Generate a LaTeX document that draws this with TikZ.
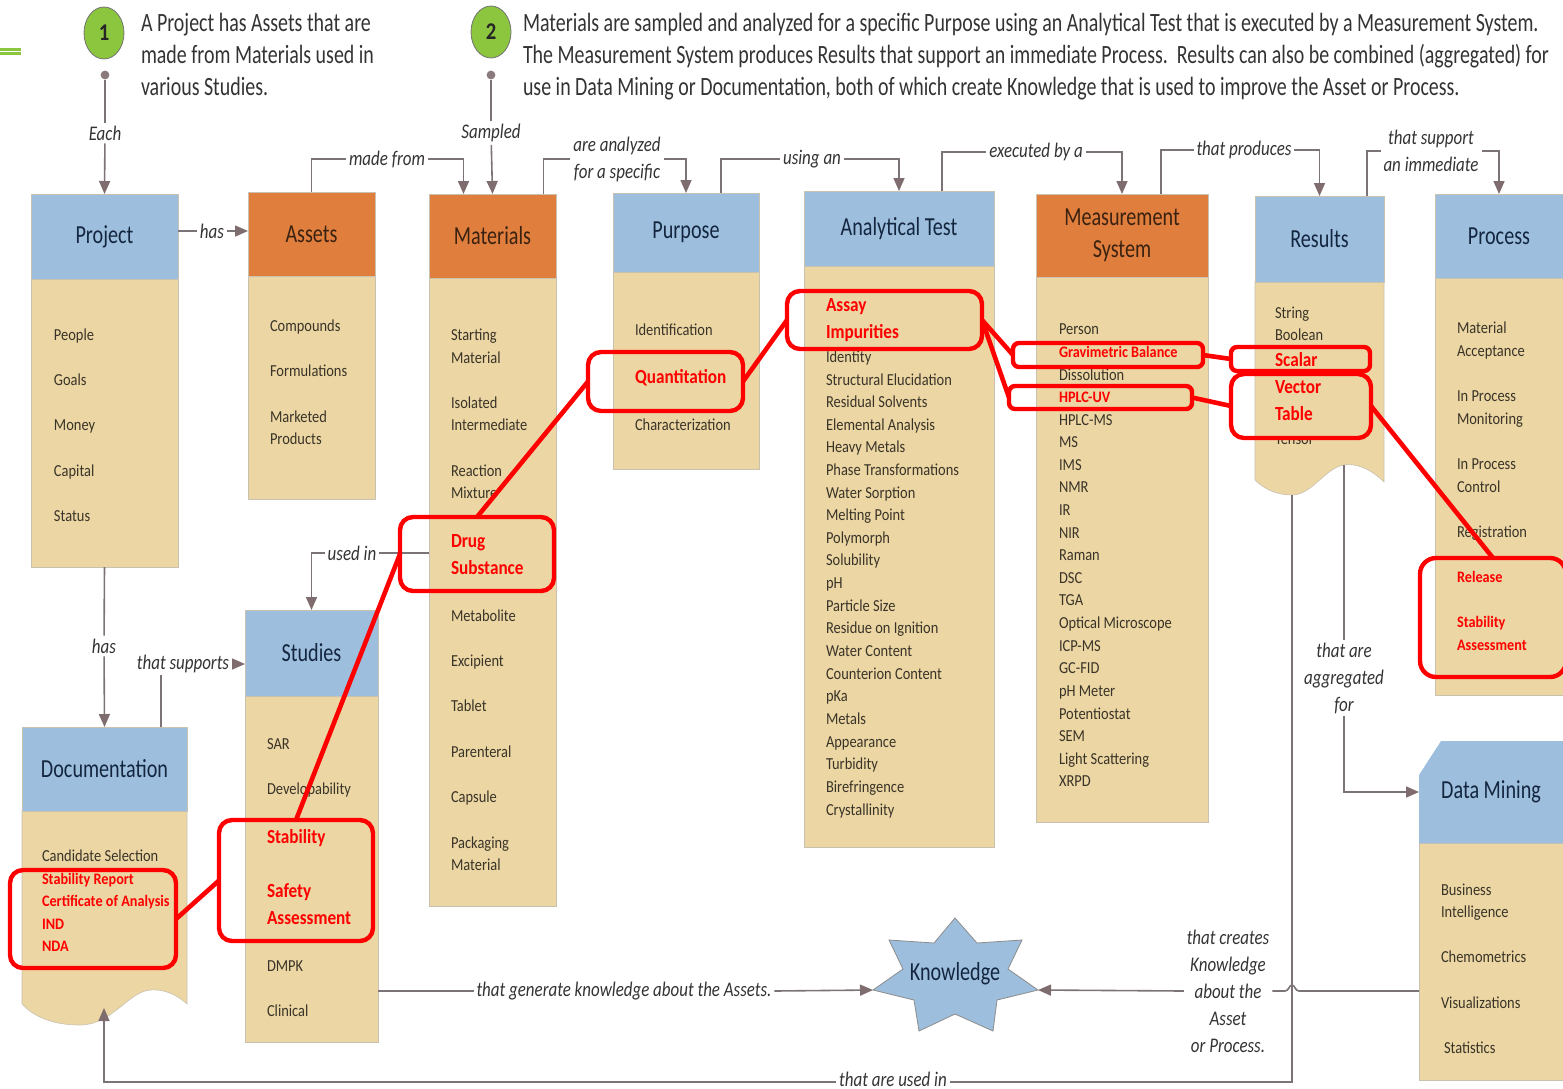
\documentclass[tikz,border=0pt]{standalone}
\usepackage{fontspec}
\setmainfont[FakeStretch=0.86]{Carlito}
\newfontfamily\parafont[FakeStretch=0.755]{Carlito}
\newfontfamily\titlefont[FakeStretch=0.775]{Carlito}
\newfontfamily\lblfont[FakeStretch=0.815]{Carlito}
\newfontfamily\redsmfont[FakeStretch=0.89]{Carlito}
\usetikzlibrary{arrows.meta,calc,shapes.geometric}
\definecolor{hblue}{HTML}{9DBFDD}
\definecolor{horange}{HTML}{E07E3E}
\definecolor{bodyc}{HTML}{EBD6A4}
\definecolor{edgec}{HTML}{C9C2B0}
\definecolor{connc}{HTML}{7B7377}
\definecolor{tipc}{HTML}{7F6C6E}
\definecolor{titleblue}{HTML}{14263F}
\definecolor{titleor}{HTML}{3A2210}
\definecolor{itemc}{HTML}{3A3428}
\definecolor{greenc}{HTML}{8CC63F}
\newcommand{\fz}[2]{\fontsize{#1}{#2}\selectfont}
\newcounter{itm}
% body / header boxes: name, x1, y1, x2, y2, style, text
\newcommand{\cbox}[7]{\node[#6,minimum width={(#4-#2)*0.5pt},minimum height={(#5-#3)*0.5pt}] (#1) at ({(#2+#4)/2},{(#3+#5)/2}) {#7};}
% list items: x, y centre, text
\newcommand{\itm}[3]{\stepcounter{itm}\node[itemtxt] (item\theitm) at (#1,#2+5) {#3};}
\newcommand{\rsm}[3]{\stepcounter{itm}\node[itemtxt,text=red,font=\redsmfont\fz{8}{9}\bfseries] (item\theitm) at (#1,#2+5) {#3};}
\newcommand{\rbg}[3]{\stepcounter{itm}\node[itemtxt,text=red,font=\fz{10}{11}\bfseries] (item\theitm) at (#1,#2+6) {#3};}
\tikzset{
  x=0.5pt,y=-0.5pt,
  headblue/.style={fill=hblue,draw=edgec,line width=0.3pt,inner sep=0pt,outer sep=0pt,align=center,text=titleblue,font=\titlefont\fz{13}{16}},
  headorange/.style={fill=horange,draw=edgec,line width=0.3pt,inner sep=0pt,outer sep=0pt,align=center,text=titleor,font=\titlefont\fz{13}{16}},
  bodybox/.style={fill=bodyc,draw=edgec,line width=0.3pt,inner sep=0pt,outer sep=0pt},
  textonly/.style={inner sep=0pt,outer sep=0pt,align=center,text=titleblue,font=\titlefont\fz{13}{16}},
  itemtxt/.style={anchor=base west,inner sep=0pt,outer sep=0pt,text=itemc,font=\fz{8.4}{9}},
  para/.style={anchor=north west,inner sep=0pt,outer sep=0pt,align=left,text=black!80,font=\parafont\fz{13.2}{16}},
  lbl/.style={inner sep=1.5pt,outer sep=0pt,align=center,text=black!80,font=\lblfont\fz{10.4}{13.5}\itshape},
  conn/.style={draw=connc,line width=0.8pt},
  arr/.style={conn,-{Triangle[length=6.5pt,width=5.5pt,color=tipc]}},
  redbox/.style={draw=red,line width=2.2pt,rounded corners=6.5pt,inner sep=0pt,outer sep=0pt},
  redline/.style={draw=red,line width=2.3pt},
  badge/.style={ellipse,draw=black!55,line width=0.4pt,fill=greenc,inner sep=0pt,font=\fz{12}{14}\bfseries,text=black!85,minimum width=20pt,minimum height=26pt},
  dot/.style={circle,fill=tipc!90,inner sep=0pt,minimum size=4.4pt},
  starshape/.style={fill=hblue,draw=black!45,line width=0.4pt},
}
\begin{document}
\begin{tikzpicture}
\useasboundingbox (0,0) rectangle (1563,1088);
% accent bar
\fill[greenc] (0,48) rectangle (21,55);
\fill[white] (0,51) rectangle (21,52.2);
% badges and intro text
\node[badge] (b1) at (104,33) {1};
\node[badge] (b2) at (491,32) {2};
\node[para] (t1) at (141,13) {A Project has Assets that are\\made from Materials used in\\various Studies.};
\node[para] (t2) at (523,13) {Materials are sampled and analyzed for a specific Purpose using an Analytical Test that is executed by a Measurement System.\\The Measurement System produces Results that support an immediate Process.\ \ Results can also be combined (aggregated) for\\use in Data Mining or Documentation, both of which create Knowledge that is used to improve the Asset or Process.};
\node[dot] (d1) at (105,75) {};
\node[dot] (d2) at (491,75) {};
% bodies
\cbox{projB}{31}{279}{178}{567}{bodybox}{}
\cbox{assetB}{248}{276}{375}{499}{bodybox}{}
\cbox{matB}{429}{278}{556}{906}{bodybox}{}
\cbox{purpB}{613}{272}{759}{469}{bodybox}{}
\cbox{testB}{804}{266}{994}{847}{bodybox}{}
\cbox{measB}{1036}{277}{1208}{822}{bodybox}{}
\cbox{procB}{1435}{278}{1563}{695}{bodybox}{}
\cbox{studB}{245}{696}{378}{1042}{bodybox}{}
\cbox{dataB}{1419}{843}{1563}{1080}{bodybox}{}
\coordinate (resTrough) at (1292,495);
\coordinate (resPeak) at (1344,465);
\coordinate (docTrough) at (104,1008);
\path[bodybox] (1255,282) -- (1384,282) -- (1384,482) .. controls (1370,468) and (1355,463) .. (1344,465) .. controls (1325,468) and (1312,495) .. (1292,495) .. controls (1278,495) and (1265,490) .. (1255,480) -- cycle;
\path[bodybox] (22,811) -- (187,811) -- (187,1004) .. controls (175,993) and (162,989) .. (150,990) .. controls (128,992) and (112,1025) .. (80,1025) .. controls (55,1025) and (35,1018) .. (22,1004) -- cycle;
% headers
\cbox{projH}{31}{194}{178}{279}{headblue}{Project}
\cbox{assetH}{248}{192}{375}{276}{headorange}{Assets}
\cbox{matH}{429}{194}{556}{278}{headorange}{Materials}
\cbox{purpH}{613}{193}{759}{272}{headblue}{Purpose}
\cbox{testH}{804}{191}{994}{266}{headblue}{Analytical Test}
\cbox{measH}{1036}{194}{1208}{277}{headorange}{Measurement\\System}
\cbox{resH}{1255}{196}{1384}{282}{headblue}{Results}
\cbox{procH}{1435}{194}{1563}{278}{headblue}{Process}
\cbox{studH}{245}{610}{378}{696}{headblue}{Studies}
\cbox{docH}{22}{727}{187}{811}{headblue}{Documentation}
\path[fill=hblue] (1441,741) -- (1563,741) -- (1563,843) -- (1419,843) -- (1419,775) -- cycle;
\cbox{dataH}{1419}{741}{1563}{843}{textonly}{Data Mining}
% items
\itm{54}{335}{People}\itm{54}{380}{Goals}\itm{54}{425}{Money}\itm{54}{471}{Capital}\itm{54}{516}{Status}
\itm{270}{326}{Compounds}\itm{270}{371}{Formulations}\itm{270}{417}{Marketed}\itm{270}{439}{Products}
\itm{451}{335}{Starting}\itm{451}{358}{Material}\itm{451}{403}{Isolated}\itm{451}{425}{Intermediate}\itm{451}{471}{Reaction}\itm{451}{493}{Mixture}
\rbg{451}{541}{Drug}\rbg{451}{568}{Substance}
\itm{451}{616}{Metabolite}\itm{451}{661}{Excipient}\itm{451}{706}{Tablet}\itm{451}{752}{Parenteral}\itm{451}{797}{Capsule}\itm{451}{843}{Packaging}\itm{451}{865}{Material}
\itm{635}{330}{Identification}\rbg{635}{377}{Quantitation}\itm{635}{425}{Characterization}
\rbg{826}{305}{Assay}\rbg{826}{332}{Impurities}
\itm{826}{357}{Identity}\itm{826}{380}{Structural Elucidation}\itm{826}{402}{Residual Solvents}\itm{826}{425}{Elemental Analysis}\itm{826}{447}{Heavy Metals}\itm{826}{470}{Phase Transformations}\itm{826}{493}{Water Sorption}\itm{826}{515}{Melting Point}\itm{826}{538}{Polymorph}\itm{826}{560}{Solubility}\itm{826}{583}{pH}\itm{826}{606}{Particle Size}\itm{826}{628}{Residue on Ignition}\itm{826}{651}{Water Content}\itm{826}{674}{Counterion Content}\itm{826}{696}{pKa}\itm{826}{719}{Metals}\itm{826}{742}{Appearance}\itm{826}{764}{Turbidity}\itm{826}{787}{Birefringence}\itm{826}{810}{Crystallinity}
\itm{1059}{329}{Person}\rsm{1059}{352}{Gravimetric Balance}\itm{1059}{375}{Dissolution}\rsm{1059}{397}{HPLC-UV}\itm{1059}{420}{HPLC-MS}\itm{1059}{442}{MS}\itm{1059}{465}{IMS}\itm{1059}{487}{NMR}\itm{1059}{510}{IR}\itm{1059}{533}{NIR}\itm{1059}{555}{Raman}\itm{1059}{578}{DSC}\itm{1059}{600}{TGA}\itm{1059}{623}{Optical Microscope}\itm{1059}{646}{ICP-MS}\itm{1059}{668}{GC-FID}\itm{1059}{691}{pH Meter}\itm{1059}{714}{Potentiostat}\itm{1059}{736}{SEM}\itm{1059}{759}{Light Scattering}\itm{1059}{781}{XRPD}
\itm{1275}{313}{String}\itm{1275}{335}{Boolean}\rbg{1275}{360}{Scalar}\rbg{1275}{387}{Vector}\rbg{1275}{414}{Table}\itm{1275}{439}{Tensor}
\fill[bodyc] (1256,424) rectangle (1383,438);
\itm{1457}{328}{Material}\itm{1457}{351}{Acceptance}\itm{1457}{396}{In Process}\itm{1457}{419}{Monitoring}\itm{1457}{464}{In Process}\itm{1457}{487}{Control}\itm{1457}{532}{Registration}
\rsm{1457}{577}{Release}\rsm{1457}{622}{Stability}\rsm{1457}{645}{Assessment}
\itm{267}{744}{SAR}\itm{267}{789}{Developability}\rbg{267}{837}{Stability}\rbg{267}{891}{Safety}\rbg{267}{918}{Assessment}\itm{267}{966}{DMPK}\itm{267}{1011}{Clinical}
\itm{42}{856}{Candidate Selection}\rsm{42}{879}{Stability Report}\rsm{42}{901}{Certificate of Analysis}\rsm{42}{924}{IND}\rsm{42}{946}{NDA}
\itm{1441}{890}{Business}\itm{1441}{912}{Intelligence}\itm{1441}{957}{Chemometrics}\itm{1441}{1003}{Visualizations}\itm{1444}{1048}{Statistics}
% knowledge star
\coordinate (starL) at (873,990);
\coordinate (starR) at (1038,990);
\path[starshape] (955,918) -- (977,943) -- (1022,940) -- (1008,969) -- (starR) -- (997,1000) -- (993,1031) -- (955,1014) -- (919,1031) -- (914,1000) -- (starL) -- (903,969) -- (889,940) -- (934,943) -- cycle;
\node[textonly] (know) at (955,974) {Knowledge};
% connector labels
\node[lbl] (lEach) at (105,133) {Each};
\node[lbl] (lSamp) at (491,133) {Sampled};
\node[lbl] (lHas1) at (212,231) {has};
\node[lbl] (lMade) at (387,159) {made from};
\node[lbl] (lAnal) at (617,159) {are analyzed\\for a specific};
\node[lbl] (lUsing) at (812,159) {using an};
\node[lbl] (lExec) at (1036,152) {executed by a};
\node[lbl] (lProd) at (1244,150) {that produces};
\node[lbl] (lSupp) at (1431,151) {that support\\an immediate};
\node[lbl] (lHas2) at (104,646) {has};
\node[lbl] (lSupports) at (183,664) {that supports};
\node[lbl] (lUsedIn) at (352,553) {used in};
\node[lbl] (lAgg) at (1344,678) {that are\\aggregated\\for};
\node[lbl] (lGen) at (624,991) {that generate knowledge about the Assets.};
\node[lbl] (lCreate) at (1228,991) {that creates\\Knowledge\\about the\\Asset\\or Process.};
\node[lbl] (lUsedBy) at (893,1079) {that are used in};
% connectors
\draw[conn] (d1) -- (lEach);
\draw[arr] (lEach) -- (projH.north);
\draw[conn] (d2) -- (lSamp);
\draw[arr] (lSamp) -- (matH.north);
\draw[conn] ([yshift=2.75pt]projH.east) -- (lHas1.west);
\draw[arr] (lHas1.east) -- ([yshift=1.5pt]assetH.west);
\draw[conn] (assetH.north) |- (lMade.west);
\draw[arr] (lMade.east) -| ([xshift=-14.5pt]matH.north);
\draw[conn] ([xshift=25.5pt]matH.north) |- (lAnal.west);
\draw[arr] (lAnal.east) -| (purpH.north);
\draw[conn] ([xshift=17.5pt]purpH.north) |- (lUsing.west);
\draw[arr] (lUsing.east) -| (testH.north);
\draw[conn] ([xshift=21.5pt]testH.north) |- (lExec.west);
\draw[arr] (lExec.east) -| (measH.north);
\draw[conn] ([xshift=19.5pt]measH.north) |- (lProd.west);
\draw[arr] (lProd.east) -| (resH.north);
\draw[conn] ([xshift=23.75pt]resH.north) |- (lSupp.west);
\draw[arr] (lSupp.east) -| (procH.north);
\draw[conn] (projB.south) -- (lHas2);
\draw[arr] (lHas2) -- (docH.north);
\draw[conn] ([xshift=28.25pt]docH.north) -- ++(0,-52);
\draw[arr] (lSupports.east) -- (studH.west |- lSupports.east);
\coordinate (matIn) at (matB.west |- lUsedIn);
\draw[conn] (matIn) -- (lUsedIn.east);
\draw[arr] (lUsedIn.west) -| (studH.north);
\draw[conn] (resPeak) -- (lAgg.north);
\draw[arr] (lAgg.south) |- (dataH.west);
\coordinate (studOut) at (studB.east |- lGen);
\draw[conn] (studOut) -- (lGen.west);
\draw[arr] (lGen.east) -- (starL);
\coordinate (dataOut) at (dataB.west |- lCreate);
\draw[conn] (dataOut) -- (1299,991) .. controls (1295,991) and (1295,985) .. (1292,985) .. controls (1289,985) and (1289,991) .. (1285,991) -- (lCreate.east);
\draw[arr] (lCreate.west) -- (starR);
\draw[conn] (resTrough) |- ([yshift=-1.5pt]lUsedBy.east);
\draw[arr] ([yshift=-1.5pt]lUsedBy.west) -| (docTrough);
% red highlights
\cbox{rAssay}{787}{291}{982}{349}{redbox}{}
\cbox{rQuant}{588}{352}{743}{411}{redbox}{}
\cbox{rDrug}{400}{517}{554}{591}{redbox}{}
\cbox{rStab}{219}{820}{373}{941}{redbox}{}
\cbox{rDoc}{10}{870}{176}{968}{redbox}{}
\cbox{rGrav}{1013}{343}{1203}{367}{redbox,rounded corners=3pt}{}
\cbox{rHplc}{1009}{386}{1192}{409}{redbox,rounded corners=3pt}{}
\cbox{rScalar}{1231}{347}{1370}{371}{redbox,rounded corners=3pt}{}
\cbox{rVec}{1231}{374}{1371}{438}{redbox}{}
\cbox{rRel}{1420}{558}{1566}{677}{redbox,rounded corners=8pt}{}
\draw[redline] (rDoc.east) -- (rStab.west);
\draw[redline] (rStab.north) -- (rDrug.west);
\draw[redline] (rDrug.north) -- (rQuant.west);
\draw[redline] (rQuant.east) -- (rAssay.west);
\draw[redline] (rAssay.east) -- (rGrav.west);
\draw[redline] (rAssay.east) -- (rHplc.west);
\draw[redline] (rGrav.east) -- (rScalar.west);
\draw[redline] (rHplc.east) -- (rVec.west);
\draw[redline] (rVec.east) -- (rRel.north);
\end{tikzpicture}
\end{document}
